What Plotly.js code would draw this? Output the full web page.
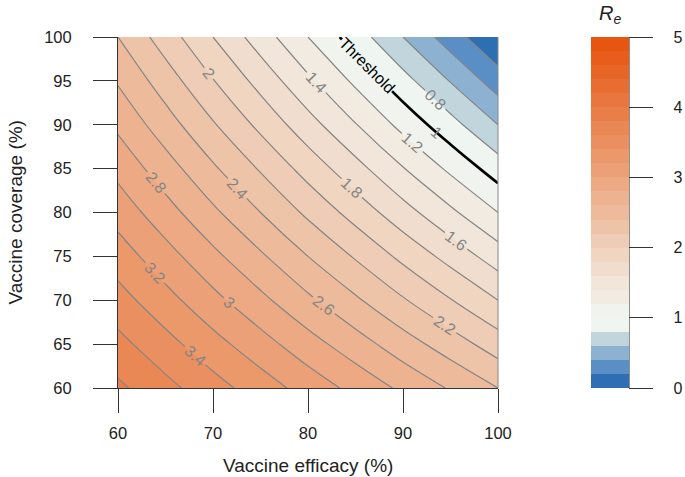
<!DOCTYPE html>
<html>
<head>
<meta charset="utf-8">
<script src="https://cdn.plot.ly/plotly-3.0.1.min.js"></script>
<style>
  body { margin: 0; background: #fff; }
  #plot { width: 685px; height: 477px; }
</style>
</head>
<body>
<div id="plot"></div>
<script>
// vaccine efficacy (x) and coverage (y), in %
var efficacy = [60, 65, 70, 75, 80, 85, 90, 95, 100];
var coverage = [60, 65, 70, 75, 80, 85, 90, 95, 100];

// R_e, one row per coverage value
var reGrid = [
  [3.84, 3.66, 3.48, 3.30, 3.12, 2.94, 2.76, 2.58, 2.40],
  [3.66, 3.47, 3.27, 3.08, 2.88, 2.69, 2.49, 2.30, 2.10],
  [3.48, 3.27, 3.06, 2.85, 2.64, 2.43, 2.22, 2.01, 1.80],
  [3.30, 3.08, 2.85, 2.63, 2.40, 2.18, 1.95, 1.73, 1.50],
  [3.12, 2.88, 2.64, 2.40, 2.16, 1.92, 1.68, 1.44, 1.20],
  [2.94, 2.69, 2.43, 2.18, 1.92, 1.67, 1.41, 1.16, 0.90],
  [2.76, 2.49, 2.22, 1.95, 1.68, 1.41, 1.14, 0.87, 0.60],
  [2.58, 2.30, 2.01, 1.73, 1.44, 1.16, 0.87, 0.59, 0.30],
  [2.40, 2.10, 1.80, 1.50, 1.20, 0.90, 0.60, 0.30, 0.00]
];

var xTicks = [60, 70, 80, 90, 100];
var yTicks = [60, 65, 70, 75, 80, 85, 90, 95, 100];
var barTicks = [0, 1, 2, 3, 4, 5];

// one colour per 0.2 band from 0 to 5
var bandColors = [
  '#2e6fb4', '#5a8fc6', '#8db1d1', '#c1d5dd', '#eff5f0',
  '#f1f4ee', '#f1ebe2', '#f2e5d9', '#f1ddcd', '#f0d5c1',
  '#efccb5', '#eec4a8', '#edbb9b', '#edb28f', '#eca983',
  '#eba077', '#eb986b', '#ea8f60', '#e98755', '#e97e49',
  '#e8763e', '#e86d33', '#e86528', '#e85d1c', '#e85510'
];

var scale = [];
bandColors.forEach(function (c, i) {
  scale.push([i / bandColors.length, c]);
  scale.push([(i + 1) / bandColors.length, c]);
});

var font = 'Liberation Sans, Arial, Helvetica, sans-serif';
var gray = '#858585';
var nb = '\u00a0\u00a0\u00a0\u00a0';

function lines(start, end, size, labels, color, width) {
  return {
    type: 'contour', x: efficacy, y: coverage, z: reGrid,
    autocontour: false, showscale: false, hoverinfo: 'skip',
    contours: {
      coloring: 'none', start: start, end: end, size: size,
      showlabels: labels,
      labelfont: {family: font, size: 16, color: gray}
    },
    line: {color: color, width: width, smoothing: 1}
  };
}

var fill = {
  type: 'contour', x: efficacy, y: coverage, z: reGrid,
  autocontour: false, zmin: 0, zmax: 5,
  colorscale: scale,
  contours: {coloring: 'fill', start: 0, end: 5, size: 0.2, showlines: false},
  line: {width: 0, smoothing: 1},
  hoverinfo: 'skip',
  colorbar: {
    x: (591 - 118) / 380, xanchor: 'left', xpad: 0,
    y: 0.5, yanchor: 'middle', ypad: 0,
    len: 1, thickness: 38, outlinewidth: 0,
    ticks: 'outside', ticklen: 24, tickcolor: '#333', tickwidth: 1,
    tickvals: barTicks, ticktext: barTicks.map(function (t) { return nb + t; }),
    tickfont: {family: font, size: 16, color: '#222'}
  }
};

var data = [
  fill,
  lines(0.2, 0.6, 0.4, false, gray, 1.2),
  lines(3.8, 3.8, 1, false, gray, 1.2),
  lines(1, 1, 1, false, 'black', 2.6),
  lines(1, 1, 1, true, gray, 0),
  lines(0.4, 0.8, 0.4, true, gray, 1.2),
  lines(1.2, 3.6, 0.2, true, gray, 1.2)
];

var layout = {
  width: 685, height: 477,
  margin: {l: 118, r: 187, t: 37, b: 89, autoexpand: false},
  paper_bgcolor: '#fff', plot_bgcolor: '#fff',
  showlegend: false,
  font: {family: font, color: '#222'},
  xaxis: {
    range: [60, 100], tickvals: xTicks, showgrid: false, zeroline: false,
    showline: true, linecolor: '#333', linewidth: 1,
    ticks: 'outside', ticklen: 24, tickcolor: '#333',
    ticklabelstandoff: 6,
    tickfont: {family: font, size: 16.5, color: '#222'}
  },
  yaxis: {
    range: [60, 100], tickvals: yTicks, showgrid: false, zeroline: false,
    showline: true, linecolor: '#333', linewidth: 1,
    ticks: 'outside', ticklen: 24, tickcolor: '#333',
    ticklabelstandoff: 18,
    tickfont: {family: font, size: 16.5, color: '#222'}
  },
  shapes: [
    {type: 'line', xref: 'paper', yref: 'paper', x0: 1, x1: 1, y0: 0, y1: 1,
     line: {color: '#888', width: 1}},
    {type: 'line', xref: 'paper', yref: 'paper',
     x0: (629 - 118) / 380, x1: (629 - 118) / 380, y0: 0, y1: 1,
     line: {color: '#222', width: 1}}
  ],
  annotations: [
    {text: 'Vaccine efficacy (%)', xref: 'paper', yref: 'paper',
     x: 0.5, y: (388 - 465) / 351, xanchor: 'center', yanchor: 'middle',
     showarrow: false, font: {family: font, size: 19, color: '#222'}},
    {text: 'Vaccine coverage (%)', xref: 'paper', yref: 'paper',
     x: (15 - 118) / 380, y: 0.5, xanchor: 'center', yanchor: 'middle',
     textangle: -90, showarrow: false, font: {family: font, size: 19, color: '#222'}},
    {text: '<i>R<sub>e</sub></i>', xref: 'paper', yref: 'paper',
     x: (610 - 118) / 380, y: 1 + (37 - 14) / 351, xanchor: 'center', yanchor: 'middle',
     showarrow: false, font: {family: font, size: 20, color: '#222'}},
    {text: 'Threshold', xref: 'x', yref: 'y', x: 86.2, y: 96.7,
     textangle: 45, showarrow: false, bgcolor: '#eff5f0', borderpad: 0,
     font: {family: font, size: 16, color: '#000'}}
  ]
};

Plotly.newPlot('plot', data, layout, {displayModeBar: false, staticPlot: true});
</script>
</body>
</html>
